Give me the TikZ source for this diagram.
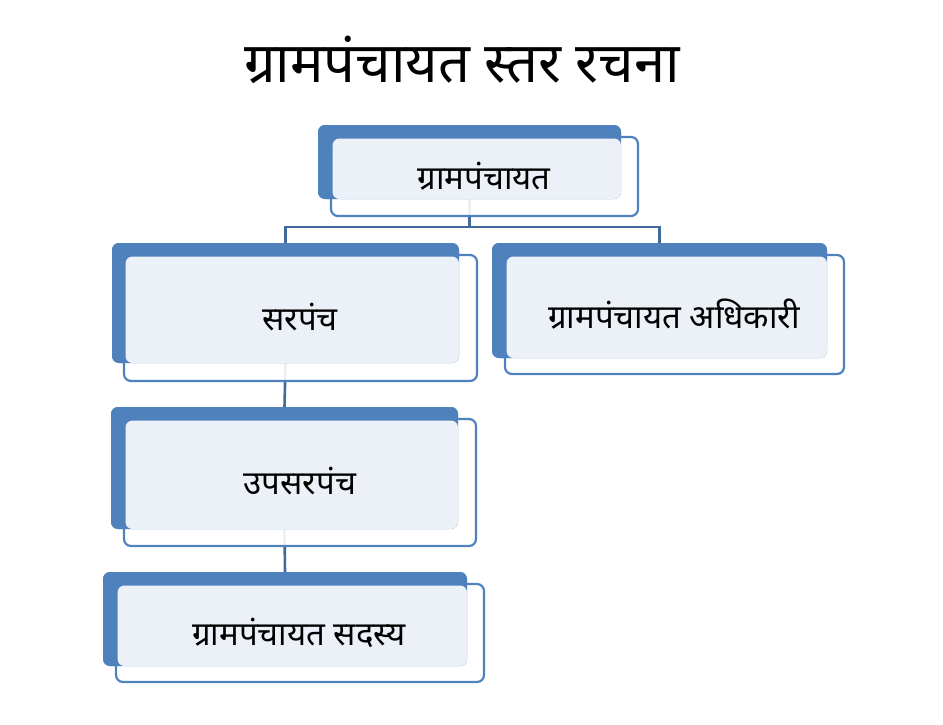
\documentclass[tikz,border=0pt]{standalone}
\usepackage{fontspec}
\newfontfamily\deva[Script=Devanagari]{Noto Sans}
\definecolor{accent}{HTML}{4F81BD}
\definecolor{lightfill}{HTML}{ECF1F8}
\definecolor{connector}{HTML}{41699B}
\tikzset{
  outerbox/.style={draw=accent, line width=2.2pt, fill=white, fill opacity=0.9,
    rounded corners=7pt, anchor=north west, inner sep=0pt, outer sep=0pt},
  backbox/.style={fill=accent, draw=none, rounded corners=7pt, anchor=north west,
    inner sep=0pt, outer sep=0pt},
  innerbox/.style={fill=lightfill, draw=none, rounded corners=7pt, anchor=north west,
    inner sep=0pt, outer sep=0pt},
  link/.style={draw=connector, line width=2.6pt},
  boxtext/.style={anchor=base, inner sep=0pt, font=\deva\fontsize{33}{38}\selectfont},
  titletext/.style={anchor=base, inner sep=0pt, font=\deva\fontsize{56}{64}\selectfont}
}
\begin{document}
\begin{tikzpicture}[x=1pt,y=-1pt]
\useasboundingbox (0,0) rectangle (943,725);
% back (blue) rectangles, used as connector anchors
\path
  node[backbox, minimum width=303pt, minimum height=74pt] (b1) at (318,125) {}
  node[backbox, minimum width=347pt, minimum height=120pt] (b2) at (112,243) {}
  node[backbox, minimum width=335pt, minimum height=115pt] (b3) at (492,243) {}
  node[backbox, minimum width=347pt, minimum height=122pt] (b4) at (111,407) {}
  node[backbox, minimum width=364pt, minimum height=94pt] (b5) at (103,572) {};
% connectors (behind the boxes)
\draw[link] (b1.south) -- ++(0,28) coordinate (bar) -| (b2.north);
\draw[link] (bar) -| (b3.north);
\draw[link] (b2.south) -- (b4.north);
\draw[link] (b4.south) -- (b5.north);
% outline rectangles
\node[outerbox, minimum width=307pt, minimum height=79pt] (o1) at (331,137) {};
\node[outerbox, minimum width=353pt, minimum height=126pt] (o2) at (124,255) {};
\node[outerbox, minimum width=339pt, minimum height=119pt] (o3) at (505,255) {};
\node[outerbox, minimum width=352pt, minimum height=127pt] (o4) at (124,419) {};
\node[outerbox, minimum width=368pt, minimum height=98pt] (o5) at (116,584) {};
% blue rectangles on top of outlines
\node[backbox, minimum width=303pt, minimum height=74pt] at (318,125) {};
\node[backbox, minimum width=347pt, minimum height=120pt] at (112,243) {};
\node[backbox, minimum width=335pt, minimum height=115pt] at (492,243) {};
\node[backbox, minimum width=347pt, minimum height=122pt] at (111,407) {};
\node[backbox, minimum width=364pt, minimum height=94pt] at (103,572) {};
% light panels
\node[innerbox, minimum width=288.5pt, minimum height=60.5pt] (l1) at (332.5,138.5) {};
\node[innerbox, minimum width=333.5pt, minimum height=106.5pt] (l2) at (125.5,256.5) {};
\node[innerbox, minimum width=320.5pt, minimum height=101.5pt] (l3) at (506.5,256.5) {};
\node[innerbox, minimum width=332.5pt, minimum height=108.5pt] (l4) at (125.5,420.5) {};
\node[innerbox, minimum width=349.5pt, minimum height=80.5pt] (l5) at (117.5,585.5) {};
% labels
\node[boxtext] (t1) at (484,189) {ग्रामपंचायत};
\node[boxtext] (t2) at (300,330) {सरपंच};
\node[boxtext] (t3) at (674,328) {ग्रामपंचायत अधिकारी};
\node[boxtext] (t4) at (300,494) {उपसरपंच};
\node[boxtext] (t5) at (299,645) {ग्रामपंचायत सदस्य};
\node[titletext] (title) at (462,83) {ग्रामपंचायत स्तर रचना};
\end{tikzpicture}
\end{document}
